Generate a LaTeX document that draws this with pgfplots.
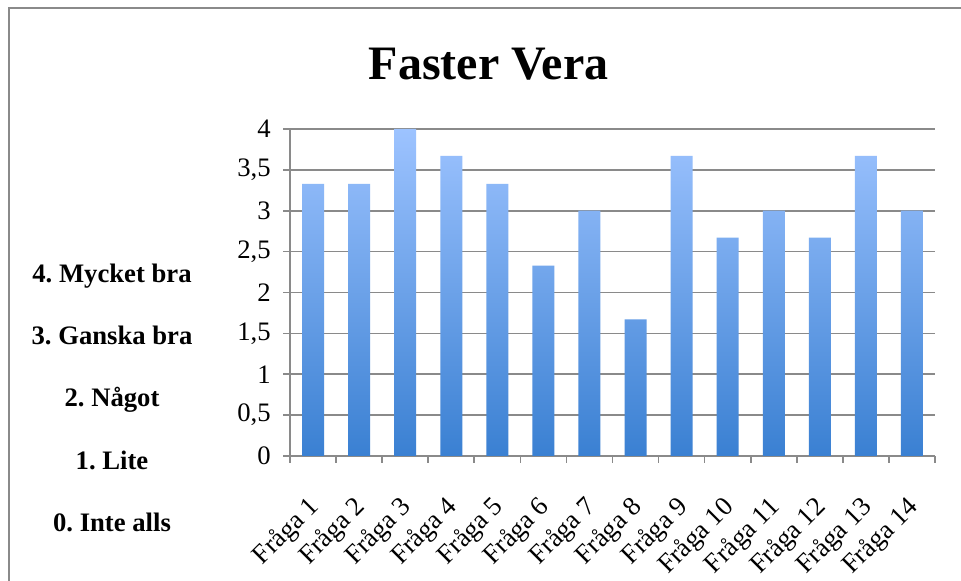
\documentclass[border=0pt]{standalone}
\usepackage{pgfplots}
\pgfplotsset{compat=1.18}
\usepackage{fontspec}
\setmainfont{Liberation Serif}
\frenchspacing
\definecolor{bartop}{HTML}{9DC3FF}
\definecolor{barbot}{HTML}{3A80D2}
\definecolor{gridc}{HTML}{8A8A8A}
\begin{document}
\begin{tikzpicture}
\useasboundingbox (0,0) rectangle (720.75pt,435.75pt);
\fill[white] (0,0) rectangle (720.75pt,435.75pt);
\draw[gridc, line width=1.5pt] (6.4pt,0) -- (6.4pt,429.4pt) -- (722pt,429.4pt);
\begin{axis}[
  at={(217.5pt,93.75pt)}, anchor=south west,
  scale only axis, width=483.75pt, height=245.25pt,
  xmin=0.5, xmax=14.5, ymin=0, ymax=4,
  axis x line*=bottom, axis y line*=left,
  axis line style={gridc, line width=1.2pt, -},
  ytick={0,0.5,...,4},
  ymajorgrids, grid style={gridc, line width=1.2pt},
  tick align=outside,
  major tick length=5pt, minor tick length=5pt,
  tick style={gridc, line width=1.2pt},
  xtick={1,...,14},
  major x tick style={draw=none},
  minor xtick={0.5,1.5,...,14.5},
  xticklabels={Fråga 1,Fråga 2,Fråga 3,Fråga 4,Fråga 5,Fråga 6,Fråga 7,Fråga 8,Fråga 9,Fråga 10,Fråga 11,Fråga 12,Fråga 13,Fråga 14},
  xticklabel style={yshift=-19pt, xshift=-5pt, rotate=45, anchor=north east, font=\fontsize{20}{22}\selectfont},
  yticklabel style={xshift=-6pt, font=\fontsize{20}{22}\selectfont},
  /pgf/number format/assume math mode=true,
  /pgf/number format/use comma,
  ybar, bar width=16.5pt,
  clip=false,
]
\addplot[draw=none, top color=bartop, bottom color=barbot, shading=axis] coordinates {
(1,3.33) (2,3.33) (3,4) (4,3.67) (5,3.33) (6,2.33) (7,3) (8,1.67) (9,3.67) (10,2.67) (11,3) (12,2.67) (13,3.67) (14,3)};
\end{axis}
\node[anchor=base, font=\fontsize{36}{40}\selectfont\bfseries] at (366.4pt,375.75pt) {Faster Vera};
\begin{scope}[every node/.style={anchor=base, font=\fontsize{20}{24}\selectfont\bfseries}]
\node at (84pt,223.5pt) {4. Mycket bra};
\node at (84pt,177pt) {3. Ganska bra};
\node at (84pt,130.5pt) {2. Något};
\node at (84pt,83.25pt) {1. Lite};
\node at (84pt,36.75pt) {0. Inte alls};
\end{scope}
\end{tikzpicture}
\end{document}
